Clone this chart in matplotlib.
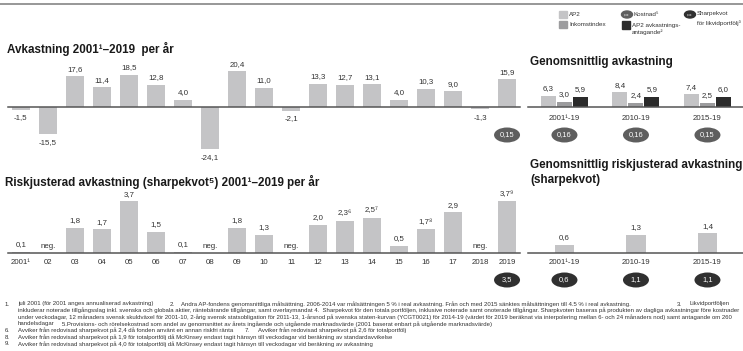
import numpy as np
import matplotlib.pyplot as plt
import matplotlib.transforms as mtransforms
from matplotlib.patches import Ellipse, Rectangle
from matplotlib.lines import Line2D

plt.rcParams['font.family'] = ['Liberation Sans', 'DejaVu Sans']

W, H, DPI = 743, 351, 100
PT = 72 / DPI  # points per pixel

# yearly data 2001-2019
years = ['2001¹', '02', '03', '04', '05', '06', '07', '08', '09', '10',
         '11', '12', '13', '14', '15', '16', '17', '2018', '2019']
returns = [-1.5, -15.5, 17.6, 11.4, 18.5, 12.8, 4.0, -24.1, 20.4, 11.0,
           -2.1, 13.3, 12.7, 13.1, 4.0, 10.3, 9.0, -1.3, 15.9]
sharpe = [0.1, np.nan, 1.8, 1.7, 3.7, 1.5, 0.1, np.nan, 1.8, 1.3,
          np.nan, 2.0, 2.3, 2.5, 0.5, 1.7, 2.9, np.nan, 3.7]
sharpe_notes = ['', '', '', '', '', '', '', '', '', '',
                '', '', '⁶', '⁷', '', '⁸', '', '', '⁹']
cost_2019 = 0.15
liq_sharpe_2019 = 3.5

# period averages
periods = ['2001¹-19', '2010-19', '2015-19']
avg_ap2 = [6.3, 8.4, 7.4]
avg_income = [3.0, 2.4, 2.5]
avg_target = [5.9, 5.9, 6.0]
avg_sharpe = [0.6, 1.3, 1.4]
avg_cost = [0.16, 0.16, 0.15]
avg_liq_sharpe = [0.6, 1.1, 1.1]

LIGHT = '#c4c4c6'
MID = '#9c9c9e'
DARK = '#2b2b2b'
COST = '#5e5e5e'
LIQ = '#303030'
TXT = '#333333'
AXIS = '#555555'


def fmt(v, d=1):
    return f'{v:.{d}f}'.replace('.', ',')


def px_box(x0, y0, x1, y1):
    return [x0 / W, 1 - y1 / H, (x1 - x0) / W, (y1 - y0) / H]


def fy(y):
    return 1 - y / H


fig = plt.figure(figsize=(W / DPI, H / DPI), dpi=DPI)


def make_ax(box, xlim, ylim):
    ax = fig.add_axes(box)
    ax.set_xlim(*xlim)
    ax.set_ylim(*ylim)
    ax.axis('off')
    ax.axhline(0, color=AXIS, lw=1.1, clip_on=False, zorder=3)
    return ax


def label(ax, x, y, text, dy_px, size=5.7, color=TXT):
    ax.annotate(text, (x, y), xytext=(0, dy_px * PT), textcoords='offset points',
                ha='center', va='center', fontsize=size, color=color,
                annotation_clip=False)


def value_labels(ax, xs, vals, notes=None, nd=1):
    for i, (x, v) in enumerate(zip(xs, vals)):
        note = notes[i] if notes else ''
        if np.isnan(v):
            label(ax, x, 0, 'neg.', 6)
        elif v >= 0:
            label(ax, x, v, fmt(v, nd) + note, 7)
        else:
            label(ax, x, v, fmt(v, nd), -8)


def oval(ax, x, text, dy_px, color):
    trans = fig.dpi_scale_trans + mtransforms.ScaledTranslation(x, 0, ax.transData)
    ax.add_patch(Ellipse((0, -dy_px / DPI), 26 / DPI, 15 / DPI, transform=trans,
                         facecolor=color, edgecolor='none', clip_on=False))
    label(ax, x, 0, text, -dy_px, size=5.4, color='white')


x_years = np.arange(len(years))
x_per = np.arange(len(periods))
ret_px = 1.75   # pixels per percent
shp_px = 14.0   # pixels per sharpe unit

# --- annual return ---
ax1 = make_ax(px_box(8, 60, 520, 157), (-0.48, 18.48),
              (-(157 - 107) / ret_px, (107 - 60) / ret_px))
ax1.bar(x_years, returns, width=0.67, color=LIGHT)
value_labels(ax1, x_years, returns)
oval(ax1, x_years[-1], fmt(cost_2019, 2), 28, COST)

# --- average return ---
ax2 = make_ax(px_box(528, 60, 743, 157), (-0.51, 2.497),
              (-(157 - 107) / ret_px, (107 - 60) / ret_px))
for off, vals, col in [(-0.224, avg_ap2, LIGHT), (0, avg_income, MID), (0.224, avg_target, DARK)]:
    ax2.bar(x_per + off, vals, width=0.21, color=col)
    value_labels(ax2, x_per + off, vals)
for x, p, c in zip(x_per, periods, avg_cost):
    label(ax2, x, 0, p, -11)
    oval(ax2, x, fmt(c, 2), 28, COST)

# --- annual sharpe ---
ax3 = make_ax(px_box(8, 190, 520, 253), (-0.48, 18.48), (0, 63 / shp_px))
ax3.bar(x_years, sharpe, width=0.67, color=LIGHT)
value_labels(ax3, x_years, sharpe, sharpe_notes)
for x, y in zip(x_years, years):
    label(ax3, x, 0, y, -9)
oval(ax3, x_years[-1], fmt(liq_sharpe_2019), 27, LIQ)

# --- average sharpe ---
ax4 = make_ax(px_box(528, 190, 743, 253), (-0.51, 2.497), (0, 63 / shp_px))
ax4.bar(x_per, avg_sharpe, width=0.27, color=LIGHT)
value_labels(ax4, x_per, avg_sharpe)
for x, p, s in zip(x_per, periods, avg_liq_sharpe):
    label(ax4, x, 0, p, -9)
    oval(ax4, x, fmt(s), 27, LIQ)

# titles
title_kw = dict(fontsize=8.4, fontweight='bold', color='#1a1a1a', va='center', ha='left')
fig.text(7 / W, fy(49), 'Avkastning 2001¹–2019  per år', **title_kw)
fig.text(530 / W, fy(62), 'Genomsnittlig avkastning', **title_kw)
fig.text(5 / W, fy(182), 'Riskjusterad avkastning (sharpekvot⁵) 2001¹–2019 per år', **title_kw)
fig.text(530 / W, fy(165), 'Genomsnittlig riskjusterad avkastning', **title_kw)
fig.text(530 / W, fy(180), '(sharpekvot)', **title_kw)

# rule along the top
fig.add_artist(Line2D([0, 1], [fy(4), fy(4)], color='#858585', lw=1.2))

# legend
leg_kw = dict(fontsize=4.5, color=TXT, va='center', ha='left')
for (x0, y0, x1, y1), col in [((559, 11, 567, 18), LIGHT), ((559, 21, 567, 28), MID),
                              ((622, 21, 630, 29), DARK)]:
    fig.add_artist(Rectangle((x0 / W, fy(y1)), (x1 - x0) / W, (y1 - y0) / H,
                             transform=fig.transFigure, color=col))
for cx, col in [(627, COST), (690, LIQ)]:
    fig.add_artist(Ellipse((cx / W, fy(14.5)), 11 / W, 7 / H,
                           transform=fig.transFigure, color=col))
    fig.text(cx / W, fy(14.5), 'x,xx', fontsize=2.2, color='white', ha='center', va='center')
fig.text(569 / W, fy(14.5), 'AP2', **leg_kw)
fig.text(569 / W, fy(25), 'Inkomstindex', **leg_kw)
fig.text(634 / W, fy(14.5), 'Kostnad⁵', **leg_kw)
fig.text(632 / W, fy(25), 'AP2 avkastnings-', **leg_kw)
fig.text(632 / W, fy(32), 'antagande²', **leg_kw)
fig.text(697 / W, fy(14), 'Sharpekvot', **leg_kw)
fig.text(697 / W, fy(23), 'för likvidportfölj³', **leg_kw)

# footnotes
notes = [
    [(5, '1.'), (18, 'juli 2001 (för 2001 anges annualiserad avkastning)'),
     (170, '2.'), (181, 'Andra AP-fondens genomsnittliga målsättning. 2006-2014 var målsättningen 5 % i real avkastning. '
                        'Från och med 2015 sänktes målsättningen till 4.5 % i real avkastning.'),
     (677, '3.'), (690, 'Likvidportföljen')],
    [(18, 'inkluderar noterade tillgångsslag inkl. svenska och globala aktier, räntebärande tillgångar, '
          'samt overlaymandat 4.  Sharpekvot för den totala portföljen, inklusive noterade samt onoterade '
          'tillgångar. Sharpkvoten baseras på produkten av dagliga avkastningar före kostnader')],
    [(18, 'under veckodagar, 12 månaders svensk skuldväxel för 2001-10, 2-årig svensk statsobligation för 2011-13, '
          '1-årsnod på svenska staten-kurvan (YCGT0021) för 2014-19 (värdet för 2019 beräknat via interpolering '
          'mellan 6- och 24 månaders nod) samt antagande om 260')],
    [(18, 'handelsdagar'),
     (62, '5.Provisions- och rörelsekostnad som andel av genomsnittet av årets ingående och utgående marknadsvärde '
          '(2001 baserat enbart på utgående marknadsvärde)')],
    [(5, '6.'), (18, 'Avviker från redovisad sharpekvot på 2,4 då fonden använt en annan riskfri ränta'),
     (245, '7.'), (258, 'Avviker från redovisad sharpekvot på 2,6 för totalportfölj')],
    [(5, '8.'), (18, 'Avviker från redovisad sharpekvot på 1,9 för totalportfölj då McKinsey endast tagit hänsyn '
                     'till veckodagar vid beräkning av standardavvikelse')],
    [(5, '9.'), (18, 'Avviker från redovisad sharpekvot på 4,0 för totalportfölj då McKinsey endast tagit hänsyn '
                     'till veckodagar vid beräkning av avkastning')],
]
for i, line in enumerate(notes):
    y = 304 + 6.65 * i
    for x, t in line:
        fig.text(x / W, fy(y), t, fontsize=4.3, color=TXT, va='center', ha='left')

fig.savefig('out.png', dpi=DPI)
